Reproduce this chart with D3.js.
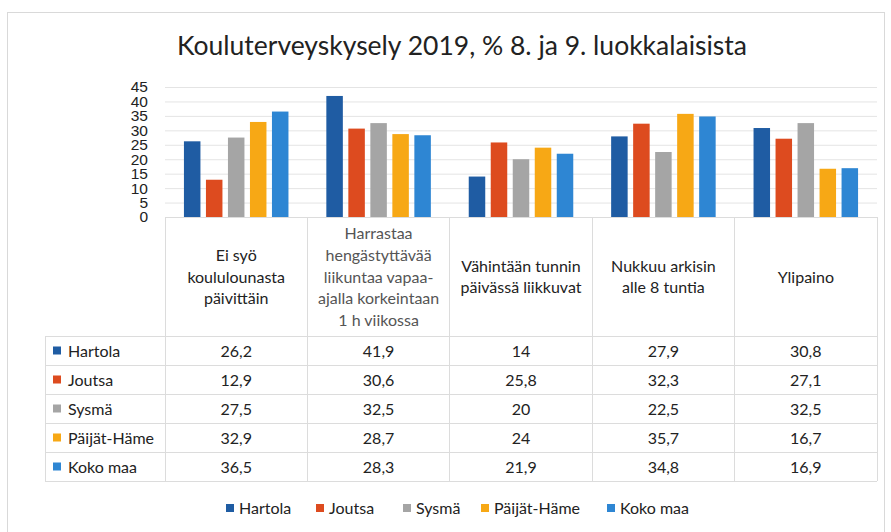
<!DOCTYPE html>
<html lang="fi">
  <head>
    <meta charset="utf-8">
    <script src="https://cdn.jsdelivr.net/npm/d3@7"></script>
    <style>
      body{ margin:0; background:#fff; }
      svg{ display:block; font-family:Lato, "Noto Sans", sans-serif; }
      .grid line{ stroke:#e4e4e4; }
      .grid path{ display:none; }
      .yaxis path, .yaxis line{ display:none; }
      .yaxis text{ font-size:15.5px; fill:#222; }
    </style>
  </head>
  <body>
    <svg></svg>
  </body>
  <script>

    var title = 'Kouluterveyskysely 2019, % 8. ja 9. luokkalaisista';

    // category labels, already wrapped the way the chart shows them
    var categories = [
      ['Ei syö', 'koululounasta', 'päivittäin'],
      ['Harrastaa', 'hengästyttävää', 'liikuntaa vapaa-', 'ajalla korkeintaan', '1 h viikossa'],
      ['Vähintään tunnin', 'päivässä liikkuvat'],
      ['Nukkuu arkisin', 'alle 8 tuntia'],
      ['Ylipaino']
    ];

    var series = ['Hartola', 'Joutsa', 'Sysmä', 'Päijät-Häme', 'Koko maa'];

    var hartola    = [26.2, 41.9, 14,   27.9, 30.8];
    var joutsa     = [12.9, 30.6, 25.8, 32.3, 27.1];
    var sysma      = [27.5, 32.5, 20,   22.5, 32.5];
    var paijatHame = [32.9, 28.7, 24,   35.7, 16.7];
    var kokoMaa    = [36.5, 28.3, 21.9, 34.8, 16.9];

    var yTicks = [0, 5, 10, 15, 20, 25, 30, 35, 40, 45];

    var colors = ['#1f5ca3', '#dd4b1f', '#a5a5a5', '#f7a815', '#2e86d3'];

    var values = [hartola, joutsa, sysma, paijatHame, kokoMaa];

    var svgwidth = 891;
    var svgheight = 532;

    var svg = d3.select('svg')
                .attr('width', svgwidth)
                .attr('height', svgheight);

    // chart frame
    svg.append('rect')
       .attr('x', 7.5)
       .attr('y', 12.5)
       .attr('width', 877)
       .attr('height', 540)
       .attr('fill', 'none')
       .attr('stroke', '#d9d9d9');

    svg.append('text')
       .attr('x', 462)
       .attr('y', 55)
       .attr('text-anchor', 'middle')
       .style('font-size', '26.5px')
       .attr('fill', '#222')
       .text(title);

    var plot = { left:165, right:877, top:87, bottom:217 };
    var tableLeft = 45;
    var tableBottom = 481;
    var headerBottom = 336;

    var catIdx = d3.range(categories.length);

    var x0 = d3.scaleBand()
               .domain(catIdx)
               .range([plot.left, plot.right])
               .paddingInner(0.266)
               .paddingOuter(0.133);

    var x1 = d3.scaleBand()
               .domain(series)
               .range([0, x0.bandwidth()])
               .paddingInner(0.25);

    var y = d3.scaleLinear()
              .domain([0, 45])
              .range([plot.bottom, plot.top]);

    // gridlines
    svg.append('g').classed('grid', true)
       .attr('transform', 'translate(' + plot.left + ',0)')
       .call(d3.axisLeft(y).tickValues(yTicks).tickSize(-(plot.right - plot.left)).tickFormat(''));

    svg.append('g').classed('yaxis', true)
       .attr('transform', 'translate(148,0)')
       .call(d3.axisLeft(y).tickValues(yTicks).tickSize(0).tickPadding(0));

    // bars
    var groups = svg.selectAll('.series')
                    .data(series)
                    .enter()
                    .append('g')
                    .classed('series', true)
                    .attr('fill', function(d, i){ return colors[i]; });

    groups.selectAll('rect')
          .data(function(d, i){
            return values[i].map(function(v, c){ return { s:d, c:c, v:v }; });
          })
          .enter()
          .append('rect')
          .attr('x', function(d){ return x0(d.c) + x1(d.s); })
          .attr('y', function(d){ return y(d.v); })
          .attr('width', x1.bandwidth())
          .attr('height', function(d){ return y(0) - y(d.v); });

    // data table
    var rowY = d3.scaleBand()
                 .domain(series)
                 .range([headerBottom, tableBottom]);

    var colEdges = catIdx.map(function(c){ return x0(c) - x0.step() * x0.paddingOuter(); });
    colEdges.push(plot.right);

    var table = svg.append('g').attr('stroke', '#dcdcdc').attr('shape-rendering', 'crispEdges');

    table.append('line')
         .attr('x1', plot.left).attr('x2', plot.right)
         .attr('y1', plot.bottom).attr('y2', plot.bottom);

    colEdges.forEach(function(x){
      table.append('line')
           .attr('x1', x).attr('x2', x)
           .attr('y1', plot.bottom).attr('y2', tableBottom);
    });

    table.append('line')
         .attr('x1', tableLeft).attr('x2', tableLeft)
         .attr('y1', headerBottom).attr('y2', tableBottom);

    series.concat(['end']).forEach(function(s, i){
      var yy = i < series.length ? rowY(s) : tableBottom;
      table.append('line')
           .attr('x1', tableLeft).attr('x2', plot.right)
           .attr('y1', yy).attr('y2', yy);
    });

    // header cells
    var lineH = 21.8;
    var headerMid = (plot.bottom + headerBottom) / 2;

    catIdx.forEach(function(c){
      var lines = categories[c];
      var cx = x0(c) + x0.bandwidth() / 2;
      var t = svg.append('text')
                 .attr('text-anchor', 'middle')
                 .style('font-size', '16px')
                 .attr('fill', c == 1 ? '#555' : '#222');
      lines.forEach(function(l, k){
        t.append('tspan')
         .attr('x', cx)
         .attr('y', headerMid + (k - (lines.length - 1) / 2) * lineH + 6)
         .text(l);
      });
    });

    // row labels with keys
    series.forEach(function(s, i){
      var cy = rowY(s) + rowY.bandwidth() / 2;
      svg.append('rect')
         .attr('x', 53).attr('y', cy - 4)
         .attr('width', 8).attr('height', 8)
         .attr('fill', colors[i]);
      svg.append('text')
         .attr('x', 68).attr('y', cy + 6)
         .style('font-size', '16px')
         .attr('fill', '#222')
         .text(s);

      values[i].forEach(function(v, c){
        svg.append('text')
           .attr('x', x0(c) + x0.bandwidth() / 2)
           .attr('y', cy + 6)
           .attr('text-anchor', 'middle')
           .style('font-size', '16px')
           .attr('fill', '#222')
           .text(String(v).replace('.', ','));
      });
    });

    // legend
    var legendX = [226, 316, 403, 481, 607];
    var legend = svg.selectAll('.legend')
                    .data(series)
                    .enter()
                    .append('g')
                    .classed('legend', true)
                    .attr('transform', function(d, i){ return 'translate(' + legendX[i] + ',508)'; });

    legend.append('rect')
          .attr('x', 0).attr('y', -4)
          .attr('width', 8).attr('height', 8)
          .attr('fill', function(d, i){ return colors[i]; });

    legend.append('text')
          .attr('x', 13).attr('y', 6)
          .style('font-size', '16px')
          .attr('fill', '#222')
          .text(function(d){ return d; });

  </script>
</html>
